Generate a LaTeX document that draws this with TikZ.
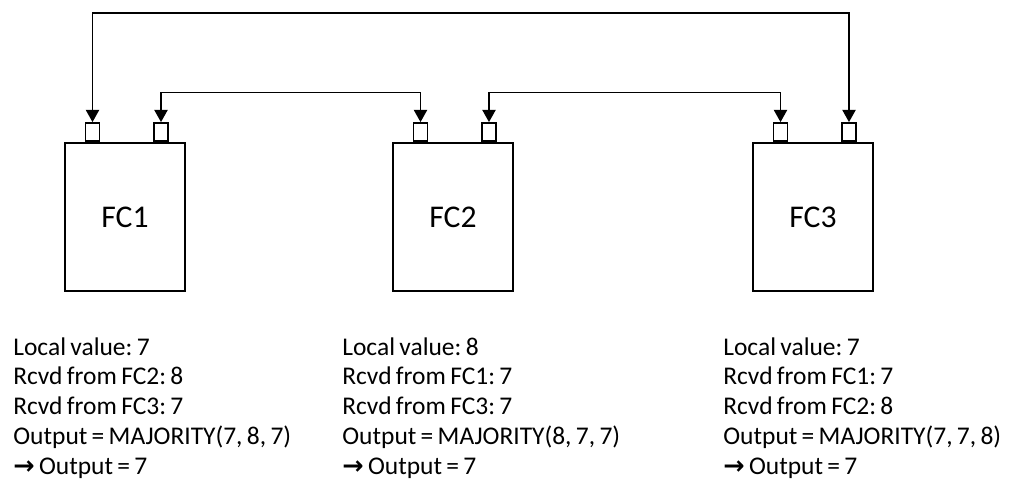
\documentclass[tikz,border=0pt]{standalone}
\usepackage{fontspec}
\setmainfont{Carlito}[WordSpace=0.75]
\newfontfamily\arrowfont{DejaVu Sans Bold}
\usetikzlibrary{arrows.meta}
\frenchspacing
\tikzset{
  fcbox/.style={draw, line width=1.1pt, minimum width=2.4cm, minimum height=2.96cm,
    inner sep=0pt, font=\fontsize{18}{20}\selectfont},
  port/.style={draw, line width=1.1pt, minimum width=0.28cm, minimum height=0.36cm,
    inner sep=0pt, anchor=south},
  link/.style={line width=1.1pt, {Triangle[width=7.5pt,length=7pt]}-{Triangle[width=7.5pt,length=7pt]}},
  info/.style={anchor=north west, align=left, inner sep=0pt,
    font=\fontsize{14.5}{17}\selectfont}
}
\begin{document}
\begin{tikzpicture}[x=0.02cm, y=-0.02cm]
  \useasboundingbox (0,0) rectangle (1010,481);
  % Flight computers, each with two ports on top
  \foreach \n/\x in {1/125, 2/453, 3/813} {
    \node[fcbox] (fc\n) at (\x,217) {FC\n};
    \node[port] (p\n1) at ([xshift=-0.65cm]fc\n.north) {};
    \node[port] (p\n2) at ([xshift=0.72cm]fc\n.north) {};
  }
  % Cross links
  \coordinate (ring) at (0,13);
  \coordinate (mid) at (0,92.5);
  \draw[link] (p11.north) |- (p32.north |- ring) -- (p32.north);
  \draw[link] (p12.north) |- (p21.north |- mid) -- (p21.north);
  \draw[link] (p22.north) |- (p31.north |- mid) -- (p31.north);
  % Voting at each computer
  \node[info] (vote1) at (13,337) {Local value: 7\\Rcvd from FC2: 8\\Rcvd from FC3: 7\\
    Output = MAJORITY(7, 8, 7)\\{\arrowfont →} Output = 7};
  \node[info] (vote2) at (342,337) {Local value: 8\\Rcvd from FC1: 7\\Rcvd from FC3: 7\\
    Output = MAJORITY(8, 7, 7)\\{\arrowfont →} Output = 7};
  \node[info] (vote3) at (723,337) {Local value: 7\\Rcvd from FC1: 7\\Rcvd from FC2: 8\\
    Output = MAJORITY(7, 7, 8)\\{\arrowfont →} Output = 7};
\end{tikzpicture}
\end{document}
